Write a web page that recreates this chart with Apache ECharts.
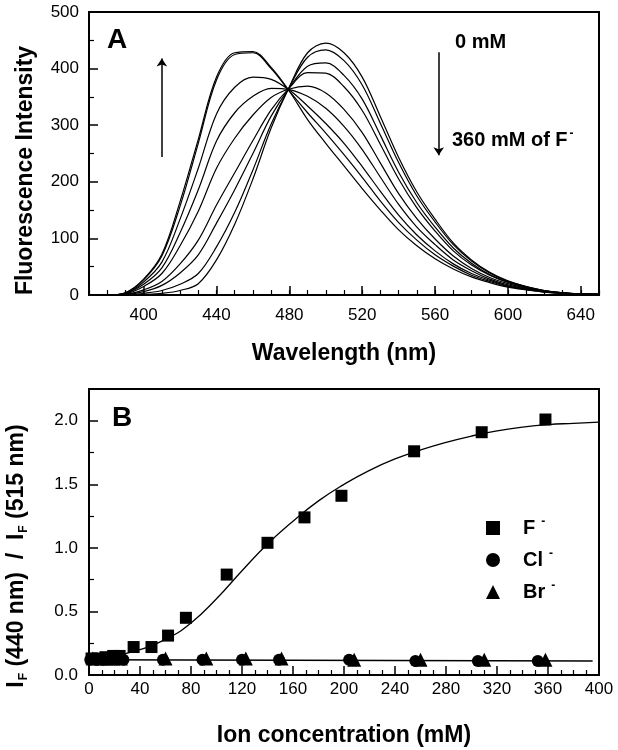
<!DOCTYPE html>
<html>
<head>
<meta charset="utf-8">
<script src="https://cdn.jsdelivr.net/npm/echarts@6/dist/echarts.min.js"></script>
<style>
html,body{margin:0;padding:0;background:#fff;}
#chart{width:618px;height:750px;}
</style>
</head>
<body>
<div id="chart"></div>
<script>
// ---------- Panel A: emission spectra (0 mM -> 360 mM F-) ----------
const wavelengths = [370,380,390,400,410,420,430,440,450,460,470,480,490,500,510,520,530,540,550,560,570,580,590,600,610,620,630,640,650];
const spec0mM = [0,0,0,1,3,8,20,62,125,205,295,368,428,445,428,385,315,243,182,134,92,62,40,25,15,8,4,2,1];
const spec2   = [0,0,0,3,8,19,38,85,146,221,302,367,420,433,414,371,303,234,175,129,89,60,39,24,15,8,4,2,1];
const spec3   = [0,0,1,6,17,39,71,127,186,250,316,366,404,410,388,346,282,217,163,120,83,56,36,23,14,7,4,2,1];
const spec4   = [0,0,1,9,24,55,97,159,216,273,327,366,393,392,368,326,266,205,154,113,78,53,35,22,13,7,4,2,1];
const spec5   = [0,0,2,15,38,87,148,224,277,318,349,364,369,357,328,287,233,179,135,99,69,47,31,20,12,7,4,2,1];
const spec6   = [0,0,3,19,48,110,186,272,322,351,365,363,351,330,298,257,208,160,120,89,62,43,28,18,11,6,3,2,1];
const spec7   = [0,0,3,23,58,134,224,320,367,385,381,362,334,303,268,227,183,141,106,78,55,38,26,16,10,6,3,2,1];
const spec8   = [0,0,4,27,69,157,268,380,425,428,400,360,322,286,248,208,166,128,97,71,51,35,24,15,10,5,3,2,1];
const spec360mM = [0,0,4,28,72,165,275,385,428,430,402,360,310,268,228,188,150,115,87,64,46,32,22,14,9,5,3,2,1];
const spectra = [spec0mM, spec2, spec3, spec4, spec5, spec6, spec7, spec8, spec360mM];
const xTicksA = [400,440,480,520,560,600,640];

// ---------- Panel B: ratio vs ion concentration ----------
const fConc  = [2,7,13,19,24,35,49,62,76,108,140,169,198,255,308,358];
const fRatio = [0.13,0.13,0.14,0.15,0.15,0.22,0.22,0.31,0.45,0.79,1.04,1.24,1.41,1.76,1.91,2.01];
const clConc  = [1,6,11,16,21,27,58,89,120,149,204,256,305,352];
const clRatio = [0.12,0.12,0.12,0.13,0.13,0.12,0.12,0.12,0.12,0.12,0.12,0.11,0.11,0.11];
const brConc  = [3,9,14,19,25,60,92,123,151,208,260,310,358];
const brRatio = [0.13,0.13,0.13,0.13,0.13,0.13,0.13,0.13,0.13,0.12,0.12,0.12,0.12];
const fFitConc  = [0,20,40,60,80,100,120,140,160,180,200,220,240,260,280,300,320,340,360,380,400];
const fFitRatio = [0.13,0.15,0.20,0.28,0.41,0.60,0.82,1.03,1.21,1.37,1.50,1.61,1.70,1.77,1.83,1.88,1.92,1.95,1.97,1.98,1.99];
const halFitConc  = [0,395];
const halFitRatio = [0.12,0.11];

const FONT = '"Liberation Sans", Arial, Helvetica, sans-serif';
const zip = (a,b) => a.map((v,i) => [v, b[i]]);

const spectraSeries = spectra.map((s, i) => {
  const ser = {
    name: 'spectrum ' + (i+1),
    type: 'line', xAxisIndex: 0, yAxisIndex: 0,
    data: zip(wavelengths, s),
    smooth: 0.35, showSymbol: false, silent: true,
    lineStyle: {color: '#000', width: 1.2},
    z: 3
  };
  if (i === 0) {
    ser.markLine = {
      silent: true, symbol: ['none','arrow'], symbolSize: 8,
      label: {show: false},
      lineStyle: {color: '#000', width: 1.5, type: 'solid'},
      data: [
        [{coord: [410, 244]}, {coord: [410, 418]}],
        [{coord: [562, 429]}, {coord: [562, 247]}]
      ]
    };
  }
  return ser;
});

const chart = echarts.init(document.getElementById('chart'), null, {renderer: 'canvas'});
const axisLineStyle = {color: '#000', width: 2};
const option = {
  animation: false,
  backgroundColor: '#fff',
  textStyle: {fontFamily: FONT, color: '#000'},
  grid: [
    {left: 89, top: 12, width: 510, height: 283, show: true, borderColor: '#000', borderWidth: 2,
     backgroundColor: 'transparent', containLabel: false, outerBoundsMode: 'none'},
    {left: 89, top: 389, width: 510, height: 286, show: true, borderColor: '#000', borderWidth: 2,
     backgroundColor: 'transparent', containLabel: false, outerBoundsMode: 'none'}
  ],
  xAxis: [
    {
      gridIndex: 0, type: 'value', min: 370, max: 650, position: 'bottom',
      axisLine: {show: true, lineStyle: axisLineStyle},
      axisTick: {inside: true, length: 9, customValues: xTicksA, lineStyle: {color: '#000', width: 1.5}},
      axisLabel: {customValues: xTicksA, margin: 12, fontSize: 17, color: '#000', fontFamily: FONT},
      splitLine: {show: false},
      name: 'Wavelength (nm)', nameLocation: 'middle', nameGap: 47,
      nameTextStyle: {fontSize: 23, fontWeight: 'bold', color: '#000', fontFamily: FONT}
    },
    {
      gridIndex: 0, type: 'value', min: 370, max: 650, interval: 10, position: 'bottom',
      axisLine: {show: false},
      axisTick: {inside: true, length: 5, lineStyle: {color: '#000', width: 1.2}},
      axisLabel: {show: false}, splitLine: {show: false}
    },
    {
      gridIndex: 1, type: 'value', min: 0, max: 400, interval: 40, position: 'bottom',
      axisLine: {show: true, lineStyle: axisLineStyle},
      axisTick: {inside: true, length: 9, lineStyle: {color: '#000', width: 1.5}},
      minorTick: {show: true, splitNumber: 4, length: 5, lineStyle: {color: '#000', width: 1.2}},
      axisLabel: {margin: 6, fontSize: 17, color: '#000', fontFamily: FONT},
      splitLine: {show: false}, minorSplitLine: {show: false},
      name: 'Ion concentration (mM)', nameLocation: 'middle', nameGap: 49,
      nameTextStyle: {fontSize: 23, fontWeight: 'bold', color: '#000', fontFamily: FONT}
    }
  ],
  yAxis: [
    {
      gridIndex: 0, type: 'value', min: 0, max: 500, interval: 100,
      axisLine: {show: true, lineStyle: axisLineStyle},
      axisTick: {inside: true, length: 9, lineStyle: {color: '#000', width: 1.5}},
      minorTick: {show: true, splitNumber: 2, length: 5, lineStyle: {color: '#000', width: 1.2}},
      axisLabel: {margin: 10, fontSize: 17, color: '#000', fontFamily: FONT},
      splitLine: {show: false}, minorSplitLine: {show: false},
      name: 'Fluorescence Intensity', nameLocation: 'middle', nameGap: 52, nameRotate: 90,
      nameTextStyle: {fontSize: 23, fontWeight: 'bold', color: '#000', fontFamily: FONT, padding: [0, 34, 0, 0]}
    },
    {
      gridIndex: 1, type: 'value', min: 0, max: 2.25, interval: 0.5,
      axisLine: {show: true, lineStyle: axisLineStyle},
      axisTick: {inside: true, length: 9, lineStyle: {color: '#000', width: 1.5}},
      minorTick: {show: true, splitNumber: 2, length: 5, lineStyle: {color: '#000', width: 1.2}},
      axisLabel: {margin: 11, fontSize: 17, color: '#000', fontFamily: FONT, showMaxLabel: false,
        formatter: v => v.toFixed(1)},
      splitLine: {show: false}, minorSplitLine: {show: false},
      name: '{t|I}{s|F}{t| (440 nm)  /  I}{s|F}{t| (515 nm)}',
      nameLocation: 'middle', nameGap: 59, nameRotate: 90,
      nameTextStyle: {
        fontSize: 23, fontWeight: 'bold', color: '#000', fontFamily: FONT, padding: [0, 48, 0, 0],
        rich: {
          t: {fontSize: 23, fontWeight: 'bold', fontFamily: FONT, color: '#000'},
          s: {fontSize: 12, fontWeight: 'bold', fontFamily: FONT, color: '#000', padding: [14, 0, 0, 1]}
        }
      }
    }
  ],
  legend: {
    data: ['F⁻', 'Cl⁻', 'Br⁻'],
    orient: 'vertical', left: 481, top: 511,
    itemWidth: 14, itemHeight: 14, itemGap: 10,
    selectedMode: false,
    formatter: n => '{t|' + n.replace('⁻', '') + '}{s|-}',
    textStyle: {
      fontSize: 20, fontWeight: 'bold', color: '#000', fontFamily: FONT, padding: [0, 0, 0, 18],
      rich: {
        t: {fontSize: 20, fontWeight: 'bold', fontFamily: FONT, color: '#000'},
        s: {fontSize: 12, fontWeight: 'bold', fontFamily: FONT, color: '#000', padding: [0, 0, 12, 6]}
      }
    }
  },
  graphic: [
    {type: 'text', left: 107, top: 26, silent: true, style: {text: 'A', font: 'bold 28px ' + FONT, fill: '#000'}},
    {type: 'text', left: 112, top: 404, silent: true, style: {text: 'B', font: 'bold 28px ' + FONT, fill: '#000'}},
    {type: 'text', left: 455, top: 32, silent: true, style: {text: '0 mM', font: 'bold 20px ' + FONT, fill: '#000'}},
    {type: 'text', left: 452, top: 128, silent: true, style: {
      text: '{t|360 mM of F}{s|-}', fill: '#000',
      rich: {
        t: {font: 'bold 20px ' + FONT, fill: '#000'},
        s: {font: 'bold 12px ' + FONT, fill: '#000', padding: [0, 0, 12, 2]}
      }
    }}
  ],
  series: spectraSeries.concat([
    {
      name: 'F fit', type: 'line', xAxisIndex: 2, yAxisIndex: 1,
      data: zip(fFitConc, fFitRatio), smooth: true, showSymbol: false, silent: true,
      lineStyle: {color: '#000', width: 1.3}, z: 2
    },
    {
      name: 'Cl/Br fit', type: 'line', xAxisIndex: 2, yAxisIndex: 1,
      data: zip(halFitConc, halFitRatio), showSymbol: false, silent: true,
      lineStyle: {color: '#000', width: 1.3}, z: 2
    },
    {
      name: 'F⁻', type: 'scatter', xAxisIndex: 2, yAxisIndex: 1,
      data: zip(fConc, fRatio), symbol: 'rect', symbolSize: 12,
      itemStyle: {color: '#000', opacity: 1}, z: 4
    },
    {
      name: 'Cl⁻', type: 'scatter', xAxisIndex: 2, yAxisIndex: 1,
      data: zip(clConc, clRatio), symbol: 'circle', symbolSize: 12,
      itemStyle: {color: '#000', opacity: 1}, z: 4
    },
    {
      name: 'Br⁻', type: 'scatter', xAxisIndex: 2, yAxisIndex: 1,
      data: zip(brConc, brRatio), symbol: 'triangle', symbolSize: 14,
      itemStyle: {color: '#000', opacity: 1}, z: 4
    }
  ])
};
chart.setOption(option);
</script>
</body>
</html>
